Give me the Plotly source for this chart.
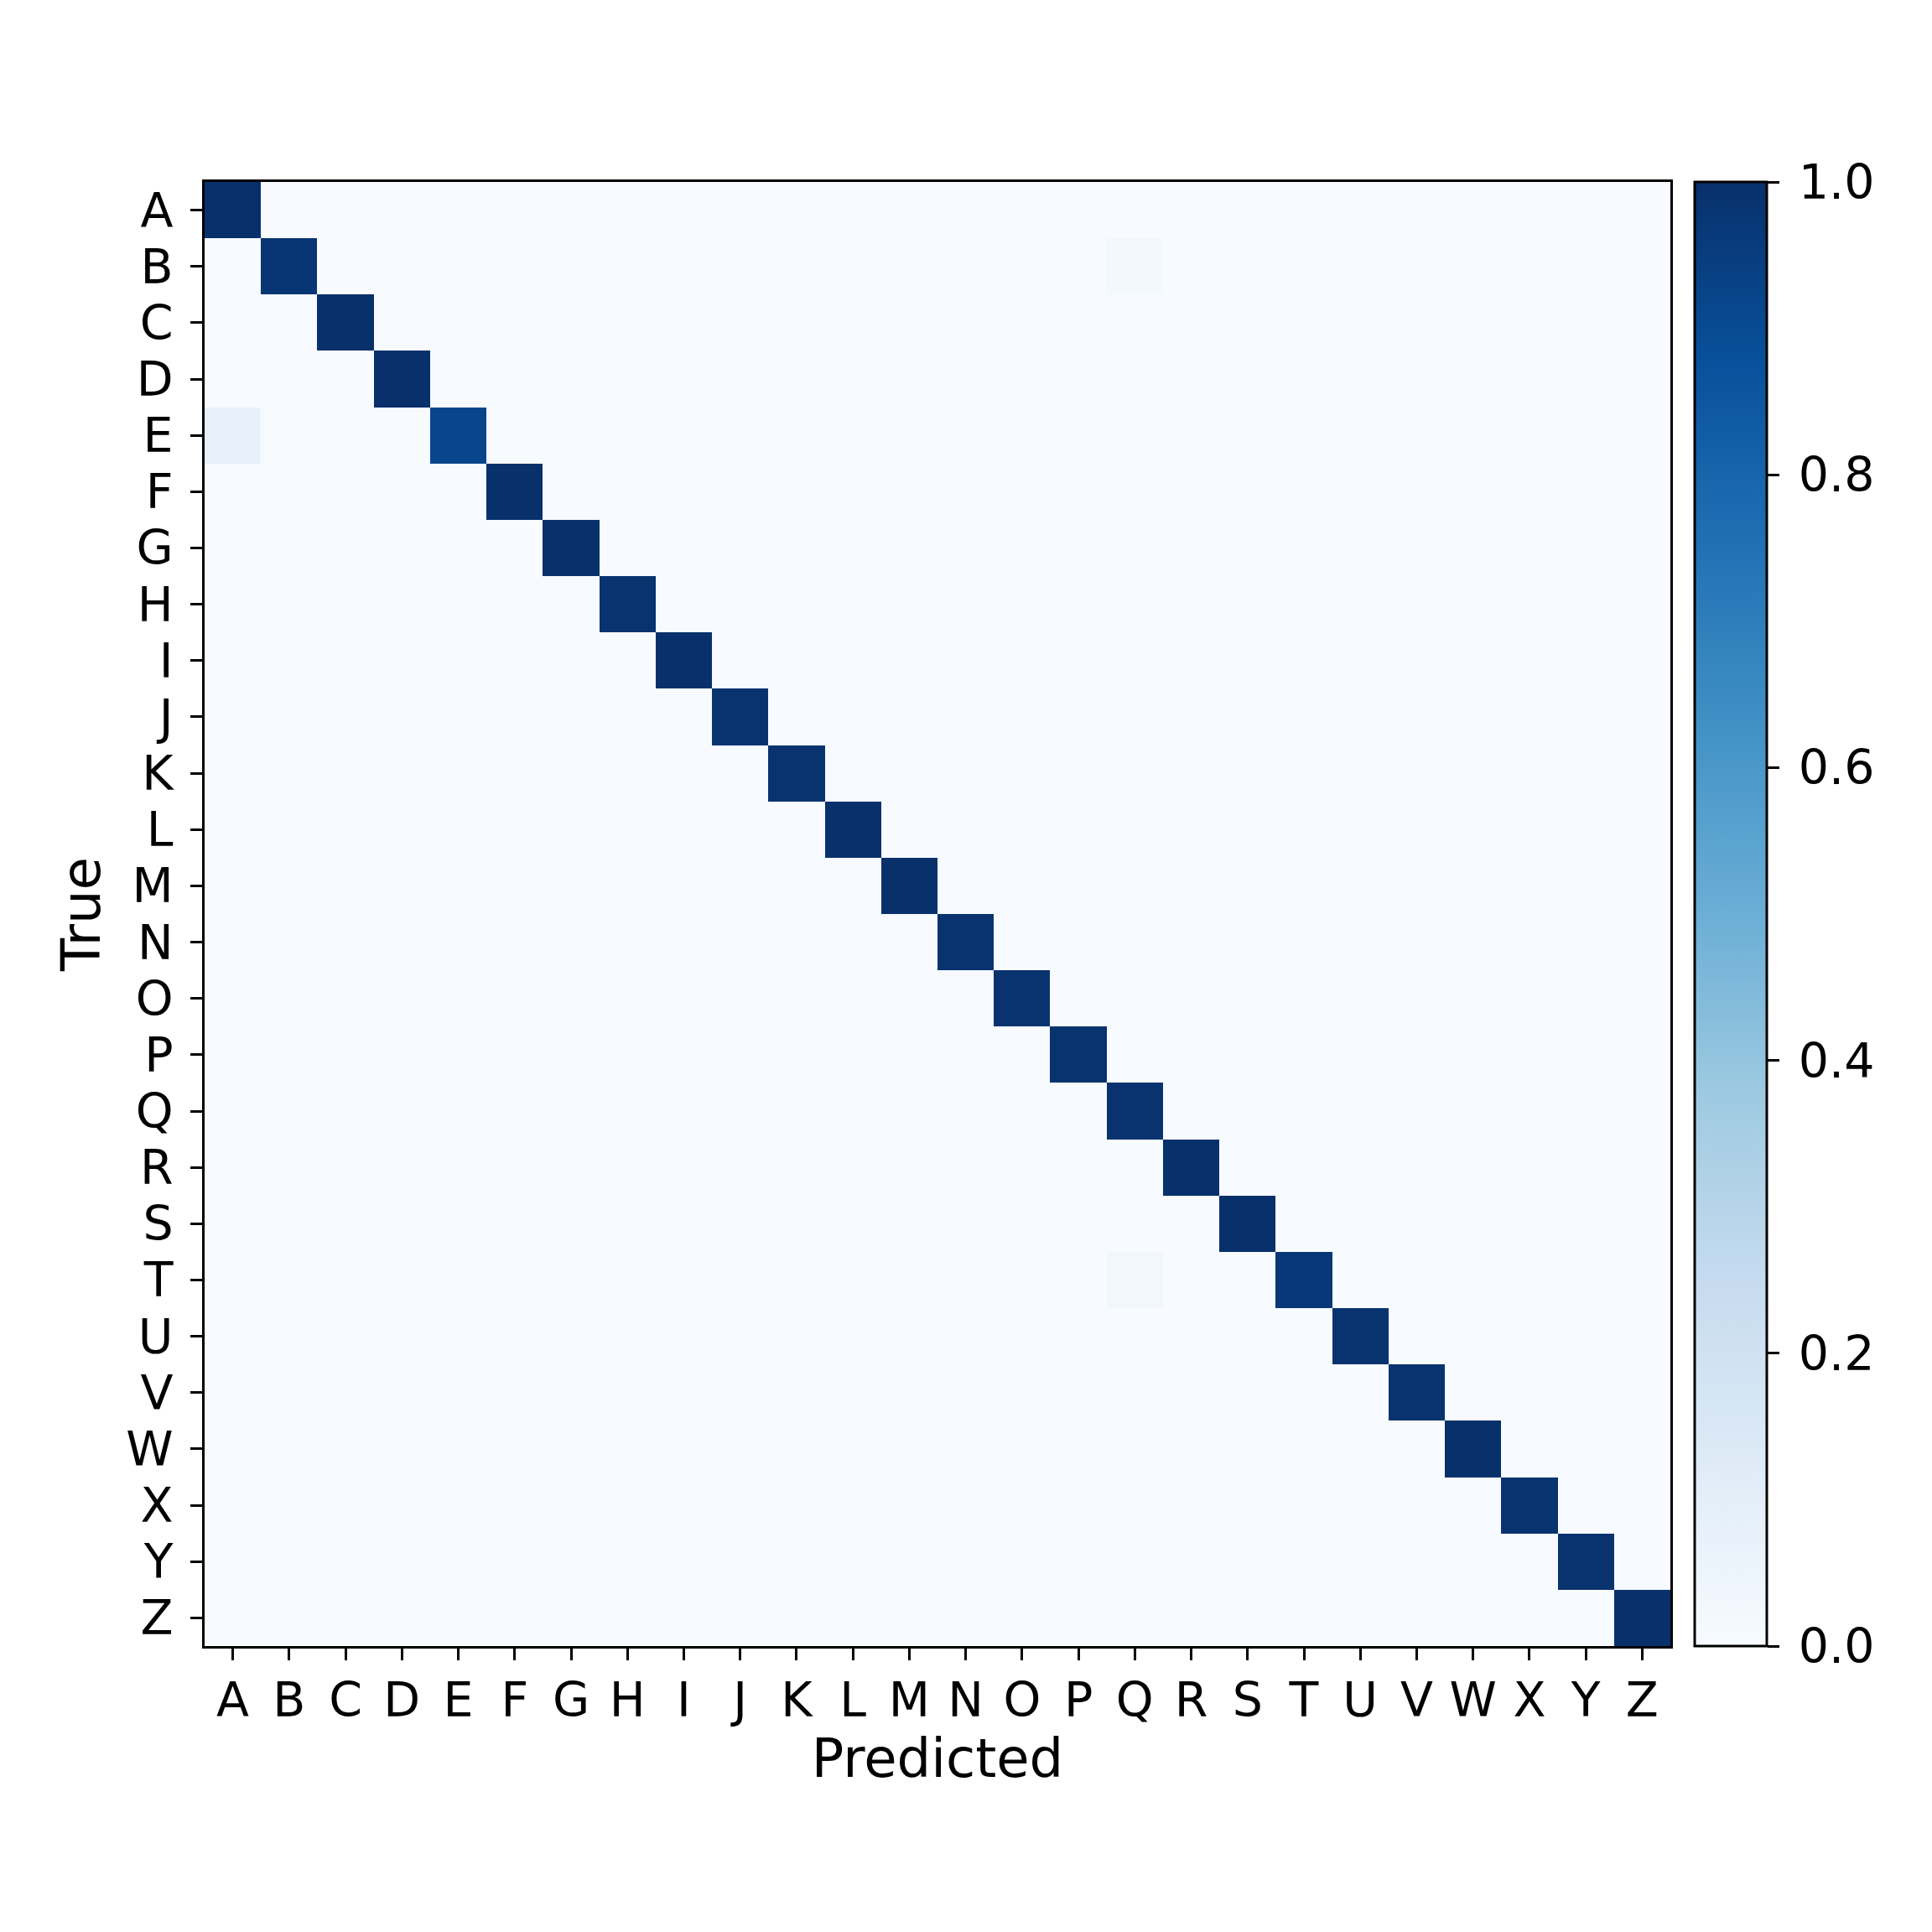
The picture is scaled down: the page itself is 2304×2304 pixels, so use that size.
'''
    Normalised confusion matrix of letter predictions (A-Z).
'''
import numpy as np
import plotly.graph_objects as go

LETTERS = [chr(c) for c in range(ord('A'), ord('Z') + 1)]

# diagonal (correct) share for every true letter, A..Z
DIAG = [1.00, 0.98, 1.00, 1.00, 0.92, 1.00, 1.00, 0.99, 1.00, 0.99,
        0.99, 1.00, 1.00, 0.99, 0.99, 0.99, 0.99, 1.00, 1.00, 0.97,
        0.99, 0.99, 1.00, 0.99, 0.99, 1.00]

# off-diagonal confusions: (true, predicted, share)
OFF_TRUE = ['B', 'E', 'O', 'T']
OFF_PRED = ['Q', 'A', 'N', 'Q']
OFF_VAL = [0.02, 0.075, 0.006, 0.03]

COLORBAR_TICKS = [0.0, 0.2, 0.4, 0.6, 0.8, 1.0]

# matplotlib "Blues"
BLUES = ['#f7fbff', '#deebf7', '#c6dbef', '#9ecae1', '#6baed6',
         '#4292c6', '#2171b5', '#08519c', '#08306b']

W = H = 2304
# the page body adds 8px, positions below are already shifted back by it
LEFT, RIGHT, TOP, BOTTOM = 236, 1984, 209, 1955
CBAR_LEFT = 2013
FONT = 'DejaVu Sans'
TICK_SIZE = 57
TITLE_SIZE = 64


def build_matrix():
    n = len(LETTERS)
    cm = np.zeros((n, n))
    for i, v in enumerate(DIAG):
        cm[i, i] = v
    for t, p, v in zip(OFF_TRUE, OFF_PRED, OFF_VAL):
        cm[LETTERS.index(t), LETTERS.index(p)] = v
    return cm


def get_figure():
    cm = build_matrix()
    scale = [[i / (len(BLUES) - 1), c] for i, c in enumerate(BLUES)]
    plot_w = RIGHT - LEFT

    fig = go.Figure(go.Heatmap(
        z=cm,
        x=LETTERS,
        y=LETTERS,
        zmin=0,
        zmax=1,
        colorscale=scale,
        colorbar=dict(
            x=(CBAR_LEFT - LEFT) / plot_w,
            xanchor='left',
            xpad=0,
            ypad=0,
            y=0.5,
            len=1,
            lenmode='fraction',
            thickness=86,
            thicknessmode='pixels',
            outlinewidth=3,
            outlinecolor='black',
            tickvals=COLORBAR_TICKS,
            ticktext=['\u2009%.1f' % v for v in COLORBAR_TICKS],
            ticks='outside',
            ticklen=14,
            tickwidth=2.5,
            tickcolor='black',
            tickfont=dict(family=FONT, size=TICK_SIZE, color='black'),
        ),
    ))

    axis_common = dict(
        showline=True,
        linecolor='black',
        linewidth=3,
        mirror=True,
        ticks='outside',
        ticklen=14,
        tickwidth=2.5,
        tickcolor='black',
        tickfont=dict(family=FONT, size=TICK_SIZE, color='black'),
        tickmode='array',
        tickvals=LETTERS,
        ticktext=LETTERS,
        showgrid=False,
        zeroline=False,
    )

    fig.update_layout(
        width=W,
        height=H,
        margin=dict(l=LEFT, r=W - RIGHT, t=TOP, b=H - BOTTOM, autoexpand=False),
        paper_bgcolor='white',
        plot_bgcolor='white',
        font=dict(family=FONT, color='black'),
        xaxis=dict(
            title=dict(text='Predicted', font=dict(family=FONT, size=TITLE_SIZE), standoff=10),
            ticklabelstandoff=-1,
            **axis_common,
        ),
        yaxis=dict(
            title=dict(text='True', font=dict(family=FONT, size=TITLE_SIZE), standoff=10),
            autorange='reversed',
            ticklabelstandoff=9,
            **axis_common,
        ),
    )
    return fig


fig = get_figure()
fig.write_html("out.html")
